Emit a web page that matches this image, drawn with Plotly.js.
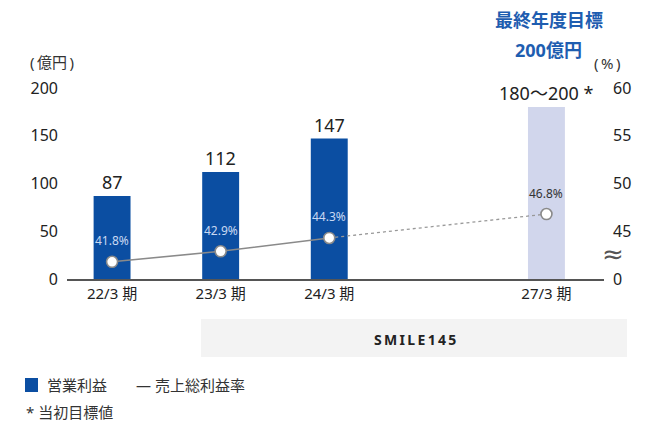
<!DOCTYPE html>
<html>
<head>
<meta charset="utf-8">
<script src="https://cdn.plot.ly/plotly-3.0.1.min.js"></script>
<style>html,body{margin:0;padding:0;background:#fff;}#chart{width:662px;height:428px;}</style>
</head>
<body>
<div id="chart"></div>
<script>
// ---- data ----
const xPos = [0, 1, 2, 4];
const categories = ["22/3 期", "23/3 期", "24/3 期", "27/3 期"];
const profit = [87, 112, 147, 180];          // 営業利益（億円）
const profitLabels = ["87", "112", "147", "180～200 *"];
const margin = [41.8, 42.9, 44.3, 46.8];     // 売上総利益率（%）
const marginLabels = ["41.8%", "42.9%", "44.3%", "46.8%"];
const leftTicks = [0, 50, 100, 150, 200];
const rightTickVals = [40, 45, 50, 55, 60];
const rightTickText = ["0", "45", "50", "55", "60"];

const FONT = "Noto Sans, Noto Sans CJK JP, sans-serif";
const BLUE = "#0b4ea2";
const LAV = "#d1d6ec";

const barColors = profit.map((v, i) => i === profit.length - 1 ? LAV : BLUE);

const traces = [
  {
    type: "bar", x: xPos, y: profit, width: 0.34,
    marker: {color: barColors}, hoverinfo: "none", yaxis: "y"
  },
  {
    type: "scatter", mode: "lines", x: xPos.slice(0, 3), y: margin.slice(0, 3),
    yaxis: "y2", line: {color: "#8a8a8a", width: 1.6}, hoverinfo: "none"
  },
  {
    type: "scatter", mode: "lines", x: xPos.slice(2), y: margin.slice(2),
    yaxis: "y2", line: {color: "#999", width: 1.3, dash: "dot"}, hoverinfo: "none"
  },
  {
    type: "scatter", mode: "markers", x: xPos, y: margin, yaxis: "y2",
    marker: {size: 11, color: "#fff", line: {color: "#8a8a8a", width: 1.6}}, hoverinfo: "none"
  }
];

// helper for pixel-placed texts (page px, relative to plot area l=67, t=88, w=537, h=191)
const PL = 67, PT = 88, PW = 537, PH = 191;
function txt(px, py, text, size, color, anchor, extra) {
  return Object.assign({
    xref: "paper", yref: "paper", x: (px - PL) / PW, y: 1 - (py - PT) / PH,
    xanchor: anchor || "center", yanchor: "middle", text: text, showarrow: false,
    font: {family: FONT, size: size, color: color}
  }, extra || {});
}

const annotations = [];
// bar value labels
xPos.forEach((x, i) => {
  annotations.push({
    x: x, y: profit[i], xref: "x", yref: "y", text: profitLabels[i],
    showarrow: false, xanchor: "center", yanchor: "bottom", yshift: 0,
    font: {family: FONT, size: 18, color: "#222"}
  });
});
// margin labels
xPos.forEach((x, i) => {
  const last = i === xPos.length - 1;
  annotations.push({
    x: x, y: margin[i], xref: "x", yref: "y2", text: marginLabels[i],
    showarrow: false, xanchor: "center", yanchor: "middle", yshift: 21,
    font: {family: FONT, size: 12, color: last ? "#333" : "#c9d9f2"}
  });
});
annotations.push(
  txt(549, 20, "<b>最終年度目標</b>", 18, "#1e5db0"),
  txt(548, 50, "<b>200億円</b>", 18, "#1e5db0"),
  txt(52, 62, "(\u2009億円\u2009)", 15, "#333"),
  txt(607, 63, "(\u2009%\u2009)", 15, "#333"),
  txt(613, 254, "≈", 26, "#555", "center", {font: {family: "DejaVu Sans", size: 26, color: "#555"}}),
  txt(415, 339, "<b>S\u2009M\u2009I\u2009L\u2009E\u20091\u20094\u20095</b>", 14, "#222"),
  txt(45, 385, "営業利益", 15, "#333", "left"),
  txt(134, 385, "— 売上総利益率", 15, "#333", "left"),
  txt(24, 412, "* 当初目標値", 15, "#333", "left")
);

const shapes = [
  {type: "rect", xref: "paper", yref: "paper", x0: (201 - PL) / PW, x1: (627 - PL) / PW,
   y0: 1 - (319 - PT) / PH, y1: 1 - (357 - PT) / PH, fillcolor: "#f3f3f3", line: {width: 0}, layer: "below"},
  {type: "rect", xref: "paper", yref: "paper", x0: (25 - PL) / PW, x1: (38 - PL) / PW,
   y0: 1 - (378 - PT) / PH, y1: 1 - (392 - PT) / PH, fillcolor: BLUE, line: {width: 0}}
];

const layout = {
  width: 662, height: 428,
  margin: {l: PL, r: 662 - PL - PW, t: PT, b: 428 - PT - PH, pad: 0},
  paper_bgcolor: "#fff", plot_bgcolor: "#fff",
  showlegend: false,
  font: {family: FONT, color: "#222"},
  xaxis: {
    range: [-0.415, 4.53], tickvals: xPos, ticktext: categories,
    showline: true, linecolor: "#555", linewidth: 1.5, showgrid: false, zeroline: false,
    ticks: "", tickfont: {family: FONT, size: 15, color: "#222"}, fixedrange: true
  },
  yaxis: {
    range: [0, 200], tickvals: leftTicks, showgrid: false, zeroline: false, showline: false,
    ticks: "", ticklabelstandoff: 8, tickfont: {family: FONT, size: 16, color: "#222"}
  },
  yaxis2: {
    overlaying: "y", side: "right", range: [40, 60], tickvals: rightTickVals, ticktext: rightTickText,
    showgrid: false, zeroline: false, showline: false, ticks: "", ticklabelstandoff: 8,
    tickfont: {family: FONT, size: 16, color: "#222"}
  },
  annotations: annotations,
  shapes: shapes
};

Plotly.newPlot("chart", traces, layout, {displayModeBar: false, staticPlot: true});
</script>
</body>
</html>
